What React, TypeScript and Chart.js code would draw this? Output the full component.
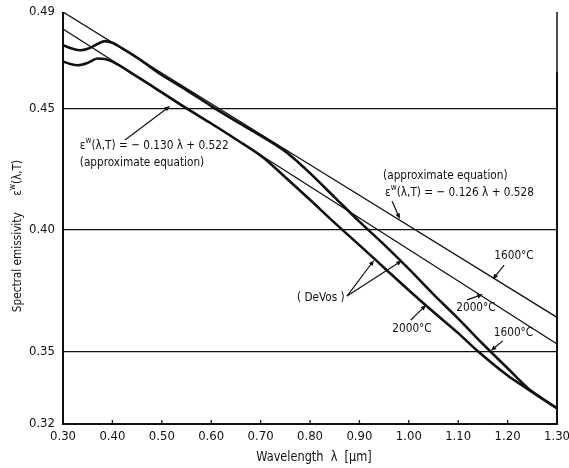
import React, { useEffect, useRef } from "react";
import { Chart, registerables } from "chart.js";

Chart.register(...registerables);

// ---------- data ----------
const wavelengthTicks = [0.3, 0.4, 0.5, 0.6, 0.7, 0.8, 0.9, 1.0, 1.1, 1.2, 1.3];
const wavelengthTickLabels = ["0.30", "0.40", "0.50", "0.60", "0.70", "0.80", "0.90", "1.00", "1.10", "1.20", "1.30"];
const emissivityTicks = [0.32, 0.35, 0.4, 0.45, 0.49];
const emissivityTickLabels = ["0.32", "0.35", "0.40", "0.45", "0.49"];
const gridValues = [0.35, 0.4, 0.45];

// DeVos 1600 °C (thick)
const devos1600Lambda = [0.3, 0.32, 0.335, 0.35, 0.37, 0.385, 0.4, 0.42, 0.45, 0.5, 0.55, 0.6, 0.65, 0.7, 0.75, 0.776, 0.8, 0.85, 0.9, 0.95, 1.0, 1.05, 1.1, 1.15, 1.2, 1.24, 1.27, 1.3];
const devos1600Values = [0.4763, 0.4748, 0.4742, 0.4748, 0.4768, 0.478, 0.4773, 0.475, 0.4712, 0.464, 0.4578, 0.4512, 0.445, 0.439, 0.4325, 0.428, 0.4235, 0.4135, 0.4035, 0.394, 0.384, 0.3735, 0.3635, 0.353, 0.343, 0.335, 0.3305, 0.3265];

// DeVos 2000 °C (thick)
const devos2000Lambda = [0.3, 0.315, 0.33, 0.35, 0.37, 0.385, 0.4, 0.45, 0.5, 0.55, 0.6, 0.65, 0.705, 0.75, 0.8, 0.85, 0.9, 0.95, 1.0, 1.05, 1.1, 1.14, 1.2, 1.24, 1.27, 1.3];
const devos2000Values = [0.4696, 0.4685, 0.468, 0.469, 0.4708, 0.4706, 0.4695, 0.4633, 0.4568, 0.4502, 0.444, 0.4375, 0.43, 0.4218, 0.4125, 0.403, 0.3938, 0.3845, 0.3752, 0.3662, 0.3575, 0.35, 0.34, 0.3345, 0.3305, 0.3265];

// approximate equations (thin)
const approx1600Lambda = [0.3, 0.8, 1.3];
const approx1600Values = [0.49, 0.427, 0.364];
const approx2000Lambda = [0.3, 0.8, 1.3];
const approx2000Values = [0.483, 0.418, 0.353];

// ---------- annotations ----------
type Part = { t: string; sup?: boolean };
const eq1Parts: Part[] = [{ t: "ε" }, { t: "w", sup: true }, { t: "(λ,T) = − 0.130 λ + 0.522" }];
const eq2Parts: Part[] = [{ t: "ε" }, { t: "w", sup: true }, { t: "(λ,T) = − 0.126 λ + 0.528" }];
const yTitleParts: Part[] = [{ t: "Spectral emissivity     ε" }, { t: "w", sup: true }, { t: "(λ,T)" }];

const annotationTexts: { parts: Part[]; x: number; y: number; align: "left" | "center" }[] = [
  { parts: eq1Parts, x: 0.334, y: 0.4347, align: "left" },
  { parts: [{ t: "(approximate equation)" }], x: 0.334, y: 0.4277, align: "left" },
  { parts: [{ t: "(approximate equation)" }], x: 0.948, y: 0.4223, align: "left" },
  { parts: eq2Parts, x: 0.952, y: 0.4153, align: "left" },
  { parts: [{ t: "1600°C" }], x: 1.213, y: 0.3893, align: "center" },
  { parts: [{ t: "2000°C" }], x: 1.136, y: 0.3679, align: "center" },
  { parts: [{ t: "( DeVos )" }], x: 0.822, y: 0.372, align: "center" },
  { parts: [{ t: "2000°C" }], x: 1.0065, y: 0.3592, align: "center" },
  { parts: [{ t: "1600°C" }], x: 1.212, y: 0.3576, align: "center" },
];

const arrowsData: [number, number, number, number][] = [
  [0.4255, 0.4372, 0.5166, 0.4512],
  [0.966, 0.412, 0.982, 0.4046],
  [1.193, 0.3856, 1.17, 0.3797],
  [1.118, 0.3712, 1.15, 0.3735],
  [0.875, 0.3728, 0.9296, 0.3876],
  [0.875, 0.3728, 0.986, 0.3874],
  [1.004, 0.3629, 1.035, 0.3691],
  [1.19, 0.3543, 1.166, 0.3502],
];

const FONT = '"Liberation Sans Narrow", "DejaVu Sans Condensed", "Liberation Sans", sans-serif';
const INK = "#111";

function toPoints(xs: number[], ys: number[]) {
  return xs.map((x, i) => ({ x, y: ys[i] }));
}

function drawRich(
  ctx: CanvasRenderingContext2D,
  parts: Part[],
  x: number,
  y: number,
  size: number,
  align: "left" | "center",
  sx = 0.9
) {
  const widths = parts.map((p) => {
    ctx.font = `${p.sup ? Math.round(size * 0.7) : size}px ${FONT}`;
    return ctx.measureText(p.t).width;
  });
  const total = widths.reduce((a, b) => a + b, 0);
  ctx.save();
  ctx.translate(x, y);
  ctx.scale(sx, 1);
  let cx = align === "center" ? -total / 2 : 0;
  ctx.textAlign = "left";
  ctx.textBaseline = "middle";
  parts.forEach((p, i) => {
    ctx.font = `${p.sup ? Math.round(size * 0.7) : size}px ${FONT}`;
    ctx.fillText(p.t, cx, p.sup ? -size * 0.38 : 0);
    cx += widths[i];
  });
  ctx.restore();
}

function drawArrow(ctx: CanvasRenderingContext2D, x1: number, y1: number, x2: number, y2: number) {
  const ang = Math.atan2(y2 - y1, x2 - x1);
  const head = 6;
  ctx.beginPath();
  ctx.moveTo(x1, y1);
  ctx.lineTo(x2 - Math.cos(ang) * head * 0.8, y2 - Math.sin(ang) * head * 0.8);
  ctx.stroke();
  ctx.beginPath();
  ctx.moveTo(x2, y2);
  ctx.lineTo(x2 - head * Math.cos(ang - 0.4), y2 - head * Math.sin(ang - 0.4));
  ctx.lineTo(x2 - head * Math.cos(ang + 0.4), y2 - head * Math.sin(ang + 0.4));
  ctx.closePath();
  ctx.fill();
}

const decorPlugin = {
  id: "decor",
  afterDraw(chart: any) {
    const ctx: CanvasRenderingContext2D = chart.ctx;
    const xs = chart.scales.x;
    const ys = chart.scales.y;
    const { left, right, top, bottom } = chart.chartArea;
    ctx.save();
    ctx.strokeStyle = INK;
    ctx.fillStyle = INK;
    // frame: left, bottom, right
    ctx.lineWidth = 2;
    ctx.beginPath();
    ctx.moveTo(left, top);
    ctx.lineTo(left, bottom);
    ctx.lineTo(right, bottom);
    ctx.lineTo(right, top + 60);
    ctx.stroke();
    ctx.lineWidth = 1.5;
    ctx.beginPath();
    ctx.moveTo(right, top + 60);
    ctx.lineTo(right, top);
    ctx.stroke();
    // inner x tick marks
    ctx.lineWidth = 1.3;
    wavelengthTicks.forEach((v) => {
      const px = xs.getPixelForValue(v);
      ctx.beginPath();
      ctx.moveTo(px, bottom);
      ctx.lineTo(px, bottom - 4);
      ctx.stroke();
    });
    // arrows
    ctx.lineWidth = 1.2;
    arrowsData.forEach(([a, b, c, d]) => {
      drawArrow(ctx, xs.getPixelForValue(a), ys.getPixelForValue(b), xs.getPixelForValue(c), ys.getPixelForValue(d));
    });
    // annotation texts
    annotationTexts.forEach((a) => {
      drawRich(ctx, a.parts, xs.getPixelForValue(a.x), ys.getPixelForValue(a.y), 13, a.align);
    });
    // axis titles
    drawRich(ctx, [{ t: "Wavelength  λ  [µm]" }], 314, 457, 14, "center");
    ctx.save();
    ctx.translate(18, 236);
    ctx.rotate(-Math.PI / 2);
    drawRich(ctx, yTitleParts, 0, 0, 13, "center");
    ctx.restore();
    ctx.restore();
  },
};

export default function App() {
  const canvasRef = useRef<HTMLCanvasElement | null>(null);

  useEffect(() => {
    if (!canvasRef.current) return;
    const thick = { borderColor: INK, borderWidth: 2.6, pointRadius: 0, fill: false, cubicInterpolationMode: "monotone" as const };
    const thin = { borderColor: INK, borderWidth: 1.3, pointRadius: 0, fill: false, tension: 0 };
    const chart = new Chart(canvasRef.current, {
      type: "line",
      data: {
        datasets: [
          { label: "Approximate equation 1600°C", data: toPoints(approx1600Lambda, approx1600Values), ...thin },
          { label: "Approximate equation 2000°C", data: toPoints(approx2000Lambda, approx2000Values), ...thin },
          { label: "DeVos 1600°C", data: toPoints(devos1600Lambda, devos1600Values), ...thick },
          { label: "DeVos 2000°C", data: toPoints(devos2000Lambda, devos2000Values), ...thick },
        ] as any,
      },
      options: {
        responsive: false,
        devicePixelRatio: 1,
        animation: false,
        layout: { padding: { left: 0, right: 12, top: 12, bottom: 0 } },
        plugins: { legend: { display: false }, tooltip: { enabled: false } },
        scales: {
          x: {
            type: "linear",
            min: 0.3,
            max: 1.3,
            afterBuildTicks: (s: any) => {
              s.ticks = wavelengthTicks.map((v) => ({ value: v }));
            },
            afterFit: (s: any) => {
              s.height = 44;
              s.paddingLeft = 0;
              s.paddingRight = 0;
            },
            ticks: {
              autoSkip: false,
              maxRotation: 0,
              minRotation: 0,
              padding: 5,
              color: INK,
              font: { family: FONT, size: 13 },
              callback: (v: any) => {
                const i = wavelengthTicks.findIndex((t) => Math.abs(t - Number(v)) < 1e-9);
                return i >= 0 ? wavelengthTickLabels[i] : "";
              },
            },
            grid: { display: false, drawTicks: false },
            border: { display: false },
          },
          y: {
            type: "linear",
            min: 0.32,
            max: 0.49,
            afterBuildTicks: (s: any) => {
              s.ticks = emissivityTicks.map((v) => ({ value: v }));
            },
            afterFit: (s: any) => {
              s.width = 63;
              s.paddingTop = 0;
              s.paddingBottom = 0;
            },
            ticks: {
              autoSkip: false,
              padding: 8,
              color: INK,
              font: { family: FONT, size: 13 },
              callback: (v: any) => {
                const i = emissivityTicks.findIndex((t) => Math.abs(t - Number(v)) < 1e-9);
                return i >= 0 ? emissivityTickLabels[i] : "";
              },
            },
            grid: {
              drawTicks: false,
              lineWidth: 1.3,
              color: (c: any) =>
                c.tick && gridValues.some((g) => Math.abs(g - c.tick.value) < 1e-9) ? INK : "rgba(0,0,0,0)",
            },
            border: { display: false },
          },
        },
      },
      plugins: [decorPlugin],
    });
    return () => chart.destroy();
  }, []);

  return (
    <div style={{ position: "fixed", left: 0, top: 0, width: 569, height: 468, background: "#fff" }}>
      <canvas ref={canvasRef} width={569} height={468} style={{ display: "block" }} />
    </div>
  );
}
